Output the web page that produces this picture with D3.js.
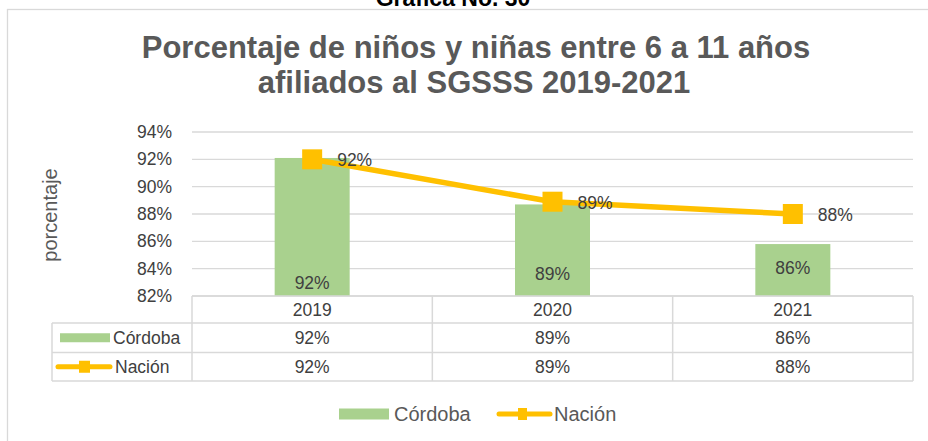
<!DOCTYPE html>
<html lang="es">
<head>
<meta charset="UTF-8">
<title>Porcentaje de niños y niñas entre 6 a 11 años afiliados al SGSSS 2019-2021</title>
<script src="https://d3js.org/d3.v7.min.js"></script>
<style>
  body { margin: 0; background: #fff; }
  svg { display: block; font-family: Arial, "Liberation Sans", sans-serif; }
  .grid line { stroke: #d9d9d9; stroke-width: 1.3px; }
  .tick-label, .cell, .lbl { fill: #404040; font-size: 17.5px; }
  .table line { stroke: #d9d9d9; stroke-width: 1.5px; }
</style>
</head>
<body>
<div id="chart"></div>
<script>
  var years = ["2019", "2020", "2021"];
  var cordoba = [92.1, 88.7, 85.8];
  var nacion = [92.0, 88.9, 88.0];
  var cordobaText = ["92%", "89%", "86%"];
  var nacionText = ["92%", "89%", "88%"];
  var yTicks = [82, 84, 86, 88, 90, 92, 94];

  var width = 928, height = 441;
  var green = "#a9d18e", gold = "#ffc000", grey = "#595959";

  var svg = d3.select("#chart").append("svg")
      .attr("width", width)
      .attr("height", height);

  svg.append("rect").attr("width", width).attr("height", height).attr("fill", "#fff");

  // caption of the page, cut off at the top
  svg.append("text")
      .attr("x", 453).attr("y", 6)
      .attr("text-anchor", "middle")
      .style("font-size", "23px").style("font-weight", "bold").attr("fill", "#000")
      .text("Gráfica No. 30");

  // chart frame
  svg.append("rect")
      .attr("x", 7.5).attr("y", 9.5)
      .attr("width", 940).attr("height", 450)
      .attr("fill", "none").attr("stroke", "#d9d9d9").attr("stroke-width", 1.3);

  // title
  var title = svg.append("text")
      .attr("text-anchor", "middle")
      .attr("fill", grey)
      .style("font-size", "31px").style("font-weight", "bold");
  title.append("tspan").attr("x", 476).attr("y", 58).text("Porcentaje de niños y niñas entre 6 a 11 años");
  title.append("tspan").attr("x", 474).attr("y", 93).text("afiliados al SGSSS 2019-2021");

  var plotL = 192, plotR = 913, plotT = 132, plotB = 296;

  var x = d3.scaleBand().domain(years).range([plotL, plotR]);
  var y = d3.scaleLinear().domain([82, 94]).range([plotB, plotT]);

  // grid
  svg.append("g").attr("class", "grid")
    .selectAll("line").data(yTicks).enter().append("line")
      .attr("x1", plotL).attr("x2", plotR)
      .attr("y1", function(d) { return y(d); })
      .attr("y2", function(d) { return y(d); });

  // y axis labels
  var yAxis = svg.append("g")
      .attr("transform", "translate(" + (plotL - 14) + ",0)")
      .call(d3.axisLeft(y).tickValues(yTicks).tickSize(0).tickPadding(6)
        .tickFormat(function(d) { return d + "%"; }));
  yAxis.select(".domain").remove();
  yAxis.selectAll("text")
      .attr("class", "tick-label")
      .attr("fill", grey)
      .style("font-size", "17.5px")
      .style("font-family", "Arial, 'Liberation Sans', sans-serif");

  svg.append("text")
      .attr("transform", "translate(57,215) rotate(-90)")
      .attr("text-anchor", "middle")
      .attr("fill", grey)
      .style("font-size", "20px")
      .text("porcentaje");

  // bars
  var barW = 75;
  svg.selectAll(".bar").data(cordoba).enter().append("rect")
      .attr("class", "bar")
      .attr("x", function(d, i) { return x(years[i]) + x.bandwidth() / 2 - barW / 2; })
      .attr("y", function(d) { return y(d); })
      .attr("width", barW)
      .attr("height", function(d) { return plotB - y(d); })
      .attr("fill", green);

  // bar labels (placed near the base like in the original)
  var labelLift = [13, 22, 28];
  svg.selectAll(".bar-lbl").data(cordobaText).enter().append("text")
      .attr("class", "lbl")
      .attr("x", function(d, i) { return x(years[i]) + x.bandwidth() / 2; })
      .attr("y", function(d, i) { return plotB - labelLift[i]; })
      .attr("dy", "0.35em")
      .attr("text-anchor", "middle")
      .text(function(d) { return d; });

  // line
  var line = d3.line()
      .x(function(d, i) { return x(years[i]) + x.bandwidth() / 2; })
      .y(function(d) { return y(d); });

  svg.append("path")
      .datum(nacion)
      .attr("d", line)
      .attr("fill", "none")
      .attr("stroke", gold)
      .attr("stroke-width", 5.5)
      .attr("stroke-linejoin", "round");

  var mk = 20;
  svg.selectAll(".mark").data(nacion).enter().append("rect")
      .attr("x", function(d, i) { return x(years[i]) + x.bandwidth() / 2 - mk / 2; })
      .attr("y", function(d) { return y(d) - mk / 2; })
      .attr("width", mk).attr("height", mk)
      .attr("fill", gold);

  svg.selectAll(".line-lbl").data(nacion).enter().append("text")
      .attr("class", "lbl")
      .attr("x", function(d, i) { return x(years[i]) + x.bandwidth() / 2 + 25; })
      .attr("y", function(d) { return y(d) + 1; })
      .attr("dy", "0.35em")
      .text(function(d, i) { return nacionText[i]; });

  // data table
  var rowY = [plotB, 323, 352.5, 381];
  var tableLeft = 52;
  var tbl = svg.append("g").attr("class", "table");

  tbl.append("line").attr("x1", plotL).attr("x2", plotR).attr("y1", rowY[0]).attr("y2", rowY[0]);
  rowY.slice(1).forEach(function(ry) {
    tbl.append("line").attr("x1", tableLeft).attr("x2", plotR).attr("y1", ry).attr("y2", ry);
  });
  tbl.append("line").attr("x1", tableLeft).attr("x2", tableLeft).attr("y1", rowY[1]).attr("y2", rowY[3]);
  years.forEach(function(yr) {
    tbl.append("line")
        .attr("x1", x(yr)).attr("x2", x(yr))
        .attr("y1", rowY[0]).attr("y2", rowY[3]);
  });
  tbl.append("line").attr("x1", plotR).attr("x2", plotR).attr("y1", rowY[0]).attr("y2", rowY[3]);

  function cellY(r) { return (rowY[r] + rowY[r + 1]) / 2; }

  tbl.selectAll(".yr").data(years).enter().append("text")
      .attr("class", "cell")
      .attr("x", function(d) { return x(d) + x.bandwidth() / 2; })
      .attr("y", cellY(0)).attr("dy", "0.35em")
      .attr("text-anchor", "middle")
      .text(function(d) { return d; });

  [cordobaText, nacionText].forEach(function(row, r) {
    tbl.selectAll(".row" + r).data(row).enter().append("text")
        .attr("class", "cell")
        .attr("x", function(d, i) { return x(years[i]) + x.bandwidth() / 2; })
        .attr("y", cellY(r + 1)).attr("dy", "0.35em")
        .attr("text-anchor", "middle")
        .text(function(d) { return d; });
  });

  // row keys
  tbl.append("rect").attr("x", 60).attr("y", cellY(1) - 4.5).attr("width", 50).attr("height", 9).attr("fill", green);
  tbl.append("text").attr("class", "cell").attr("x", 113).attr("y", cellY(1)).attr("dy", "0.35em").text("Córdoba");
  tbl.append("line").attr("x1", 58).attr("x2", 110).attr("y1", cellY(2)).attr("y2", cellY(2))
      .style("stroke", gold).style("stroke-width", 5).style("stroke-linecap", "round");
  tbl.append("rect").attr("x", 79).attr("y", cellY(2) - 6).attr("width", 11).attr("height", 12).attr("fill", gold);
  tbl.append("text").attr("class", "cell").attr("x", 115).attr("y", cellY(2)).attr("dy", "0.35em").text("Nación");

  // legend
  var lg = svg.append("g").attr("transform", "translate(0,414)");
  lg.append("rect").attr("x", 339).attr("y", -5.5).attr("width", 50).attr("height", 11).attr("fill", green);
  lg.append("text").attr("x", 394).attr("dy", "0.35em").attr("fill", grey).style("font-size", "20px").text("Córdoba");
  lg.append("line").attr("x1", 499).attr("x2", 550).attr("y1", 0).attr("y2", 0)
      .attr("stroke", gold).attr("stroke-width", 5).attr("stroke-linecap", "round");
  lg.append("rect").attr("x", 518).attr("y", -6).attr("width", 9).attr("height", 12).attr("fill", gold);
  lg.append("text").attr("x", 554).attr("dy", "0.35em").attr("fill", grey).style("font-size", "20px").text("Nación");
</script>
</body>
</html>
